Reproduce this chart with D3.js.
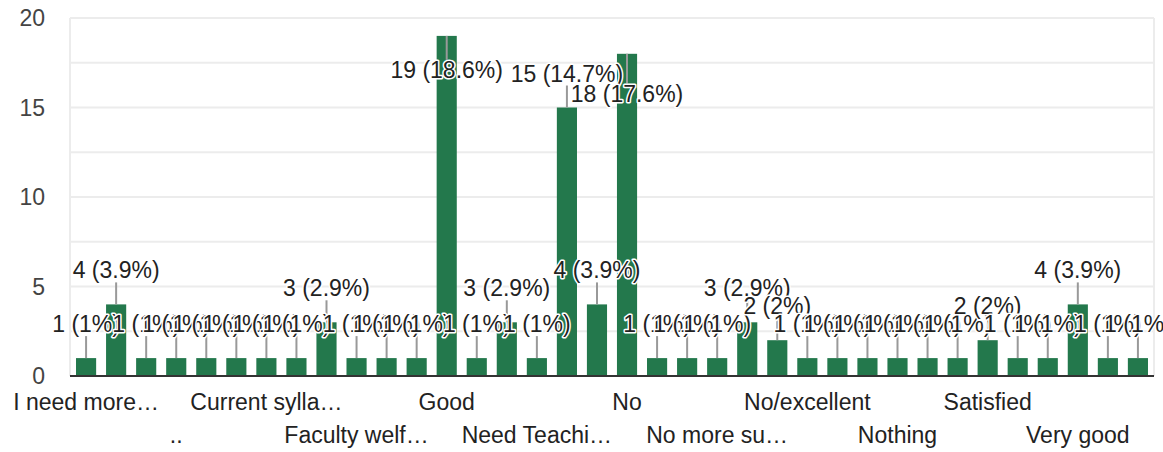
<!DOCTYPE html>
<html>
<head>
<meta charset="utf-8">
<script src="https://cdn.jsdelivr.net/npm/d3@7"></script>
<style>
    body { margin: 0; background: #fff; }
    text { font-family: "Liberation Sans", Arial, sans-serif; }
</style>
</head>
<body>
<svg id="chart" width="1163" height="452"></svg>
<script>
// Answers (only every third one is readable on the axis)
var categories = [
    "I need more…", "Ok", "-", "..", "All good", "Best",
    "Current sylla…", "Excellent", "Everything is good", "Faculty welf…", "Fine", "Good enough",
    "Good", "Good syllabus", "Its good", "Need Teachi…", "Need more practicals", "Nil",
    "No", "No changes", "No comments", "No more su…", "No suggestions", "No suggestion",
    "No/excellent", "None", "Not needed", "Nothing", "Nothing to say", "Okay",
    "Satisfied", "Satisfactory", "Syllabus is good", "Very good", "Very nice", "Well"
];

// Number of responses per answer
var counts = [
    1, 4, 1, 1, 1, 1,
    1, 1, 3, 1, 1, 1,
    19, 1, 3, 1, 15, 4,
    18, 1, 1, 1, 3, 2,
    1, 1, 1, 1, 1, 1,
    2, 1, 1, 4, 1, 1
];

var yTicks = [0, 5, 10, 15, 20];
var yGrid = [0, 2.5, 5, 7.5, 10, 12.5, 15, 17.5, 20];

document.addEventListener("DOMContentLoaded", function () {
    var svg = d3.select("#chart");

    // plot area
    var left = 70, right = 1154, top = 18, bottom = 376;
    var fontSize = "23px";
    var total = d3.sum(counts);
    var pct = d3.format(".1~f");

    var xScale = d3.scaleBand()
        .domain(d3.range(categories.length))
        .range([left, right])
        .paddingInner(0.33)
        .paddingOuter(0.2);

    var yScale = d3.scaleLinear()
        .domain([0, 20])
        .range([bottom, top]);

    // gridlines
    svg.selectAll("line.grid")
        .data(yGrid)
        .enter()
        .append("line")
        .attr("class", "grid")
        .attr("x1", left)
        .attr("x2", right)
        .attr("y1", function (d) { return yScale(d); })
        .attr("y2", function (d) { return yScale(d); })
        .attr("stroke", "#ececec")
        .attr("stroke-width", 2);

    // side borders of the plot
    svg.selectAll("line.side")
        .data([left, right])
        .enter()
        .append("line")
        .attr("class", "side")
        .attr("x1", function (d) { return d; })
        .attr("x2", function (d) { return d; })
        .attr("y1", top)
        .attr("y2", bottom)
        .attr("stroke", "#ececec")
        .attr("stroke-width", 2);

    // y axis labels
    svg.selectAll("text.ytick")
        .data(yTicks)
        .enter()
        .append("text")
        .attr("class", "ytick")
        .attr("x", 45)
        .attr("y", function (d) { return yScale(d); })
        .attr("dy", "0.36em")
        .attr("text-anchor", "end")
        .attr("font-size", fontSize)
        .attr("fill", "#444")
        .text(function (d) { return d; });

    // bars
    svg.selectAll("rect.bar")
        .data(counts)
        .enter()
        .append("rect")
        .attr("class", "bar")
        .attr("x", function (d, i) { return xScale(i); })
        .attr("y", function (d) { return yScale(d); })
        .attr("width", xScale.bandwidth())
        .attr("height", function (d) { return bottom - yScale(d); })
        .attr("fill", "#23784c");

    // baseline
    svg.append("line")
        .attr("x1", left)
        .attr("x2", right)
        .attr("y1", bottom)
        .attr("y2", bottom)
        .attr("stroke", "#333")
        .attr("stroke-width", 2);

    // work out annotation positions (tall bars get the label inside)
    var placed = [];
    var notes = counts.map(function (d, i) {
        var cx = xScale(i) + xScale.bandwidth() / 2;
        var barTop = yScale(d);
        var label = d + " (" + pct(d / total * 100) + "%)";
        var base = barTop - 26;
        var inside = base - 16 < top;
        if (inside) base = barTop + 42;
        return { i: i, cx: cx, barTop: barTop, label: label, base: base, inside: inside };
    });

    var layer = svg.append("g");
    var stems = layer.append("g");
    var labels = layer.append("g");

    notes.forEach(function (n) {
        var t = labels.append("text")
            .attr("x", n.cx)
            .attr("y", n.base)
            .attr("text-anchor", "middle")
            .attr("font-size", fontSize)
            .attr("fill", "#222")
            .attr("stroke", "#fff")
            .attr("stroke-width", 3)
            .attr("paint-order", "stroke")
            .attr("stroke-linejoin", "round")
            .text(n.label);
        var w = t.node().getComputedTextLength();
        n.x0 = n.cx - w / 2;
        n.x1 = n.cx + w / 2;
        if (n.inside) {
            // push down below any label it would collide with
            placed.forEach(function (p) {
                var overlapX = n.x0 < p.x1 && n.x1 > p.x0;
                var overlapY = n.base - 17 < p.base + 5 && n.base + 5 > p.base - 17;
                if (overlapX && overlapY) n.base = p.base + 20;
            });
            t.attr("y", n.base);
        }
        placed.push(n);

        stems.append("line")
            .attr("x1", n.cx)
            .attr("x2", n.cx)
            .attr("y1", n.barTop)
            .attr("y2", n.inside ? n.base - 18 : n.barTop - 22)
            .attr("stroke", "#999")
            .attr("stroke-width", 2);
    });

    // x axis labels, every third one on two staggered rows
    svg.selectAll("text.xlab")
        .data(categories.filter(function (d, i) { return i % 3 === 0; }))
        .enter()
        .append("text")
        .attr("class", "xlab")
        .attr("x", function (d, j) { return xScale(j * 3) + xScale.bandwidth() / 2; })
        .attr("y", function (d, j) { return j % 2 === 0 ? 410 : 443; })
        .attr("text-anchor", "middle")
        .attr("font-size", fontSize)
        .attr("fill", "#222")
        .text(function (d) { return d; });
});
</script>
</body>
</html>
